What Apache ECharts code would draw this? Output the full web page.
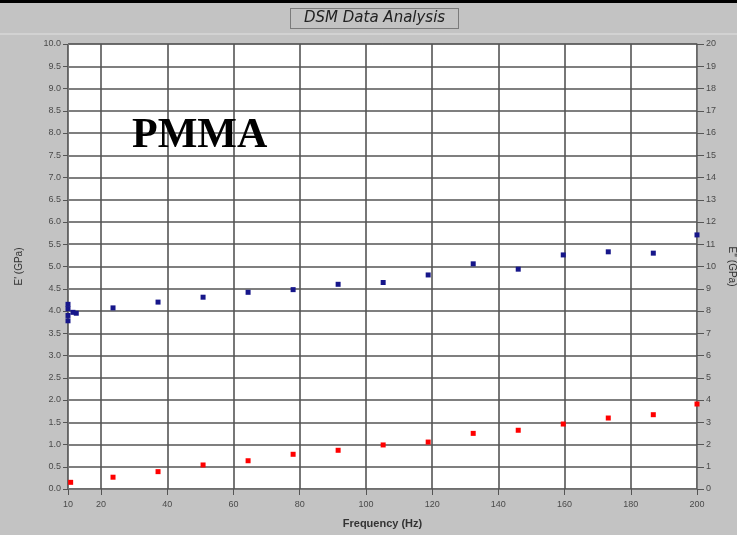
<!DOCTYPE html>
<html>
<head>
<meta charset="utf-8">
<script src="https://cdn.jsdelivr.net/npm/echarts@6/dist/echarts.min.js"></script>
<style>
html,body{margin:0;padding:0;background:#c3c3c3;}
#chart{width:737px;height:535px;}
</style>
</head>
<body>
<div id="chart"></div>
<script>
// ---- data ----
const xTicks = [10, 20, 40, 60, 80, 100, 120, 140, 160, 180, 200];
const storageFreq = [10, 10, 10, 10, 11.5, 12.5, 23.6, 37.2, 50.8, 64.4, 78, 91.6, 105.2, 118.8, 132.4, 146, 159.6, 173.2, 186.8, 200];
const storageModulus = [3.78, 3.9, 4.05, 4.15, 3.97, 3.95, 4.07, 4.2, 4.31, 4.42, 4.48, 4.6, 4.64, 4.81, 5.06, 4.94, 5.26, 5.33, 5.3, 5.71];
const lossFreq = [10.8, 23.6, 37.2, 50.8, 64.4, 78, 91.6, 105.2, 118.8, 132.4, 146, 159.6, 173.2, 186.8, 200];
const lossModulus = [0.3, 0.53, 0.78, 1.08, 1.27, 1.56, 1.74, 1.98, 2.11, 2.5, 2.64, 2.92, 3.19, 3.34, 3.82];

const chart = echarts.init(document.getElementById('chart'), null, {renderer: 'canvas'});
const labelStyle = {color: '#4a4a4a', fontSize: 9, fontFamily: 'Liberation Sans, Arial, sans-serif'};
const gridLine = {show: true, lineStyle: {color: '#555', width: 1.6}};

chart.setOption({
  backgroundColor: '#c3c3c3',
  animation: false,
  title: {
    text: 'DSM Data Analysis',
    left: 290, top: 8,
    padding: [3, 14, 3, 14],
    borderColor: '#333', borderWidth: 1, borderType: 'dotted',
    textStyle: {fontStyle: 'italic', fontWeight: 'normal', fontSize: 15, color: '#222', fontFamily: 'DejaVu Sans, Verdana, sans-serif'}
  },
  graphic: [
    {type: 'rect', left: 0, top: 0, shape: {width: 737, height: 3}, style: {fill: '#000'}},
    {type: 'rect', left: 0, top: 33, shape: {width: 737, height: 2}, style: {fill: '#d2d2d2'}},
    {type: 'text', left: 132, top: 115, z: 100,
     style: {text: 'PMMA', font: 'bold 42px "Liberation Serif", "Times New Roman", serif', fill: '#000'}}
  ],
  grid: {left: 68, right: 40, top: 44, bottom: 46, outerBoundsMode: 'none', containLabel: false,
         show: true, backgroundColor: '#fff', borderColor: '#777', borderWidth: 1},
  xAxis: {
    type: 'value', min: 10, max: 200,
    name: 'Frequency (Hz)', nameLocation: 'middle', nameGap: 29,
    nameTextStyle: {fontWeight: 'bold', fontSize: 11, color: '#333', fontFamily: 'Liberation Sans, Arial, sans-serif'},
    axisLine: {show: true, lineStyle: {color: '#777'}},
    axisTick: {show: true, length: 6, customValues: xTicks, lineStyle: {color: '#555'}},
    axisLabel: Object.assign({customValues: xTicks, margin: 11}, labelStyle),
    splitLine: gridLine
  },
  yAxis: [
    {
      type: 'value', position: 'left', min: 0, max: 10, interval: 0.5,
      name: "E' (GPa)", nameLocation: 'middle', nameGap: 44,
      nameTextStyle: {fontSize: 10, color: '#333', fontFamily: 'Liberation Sans, Arial, sans-serif'},
      axisLine: {show: true, lineStyle: {color: '#777'}},
      axisTick: {show: true, length: 5, lineStyle: {color: '#555'}},
      axisLabel: Object.assign({margin: 7, formatter: v => v.toFixed(1)}, labelStyle),
      splitLine: gridLine
    },
    {
      type: 'value', position: 'right', min: 0, max: 20, interval: 1,
      name: "E'' (GPa)", nameLocation: 'middle', nameGap: 26, nameRotate: -90,
      nameTextStyle: {fontSize: 10, color: '#333', fontFamily: 'Liberation Sans, Arial, sans-serif'},
      axisLine: {show: true, lineStyle: {color: '#777'}},
      axisTick: {show: true, length: 7, lineStyle: {color: '#555'}},
      axisLabel: Object.assign({margin: 9}, labelStyle),
      splitLine: {show: false}
    }
  ],
  series: [
    {
      name: "E'", type: 'scatter', yAxisIndex: 0, symbol: 'rect', symbolSize: 5,
      itemStyle: {color: '#16168a', opacity: 1},
      data: storageFreq.map((f, i) => [f, storageModulus[i]])
    },
    {
      name: "E''", type: 'scatter', yAxisIndex: 1, symbol: 'rect', symbolSize: 5,
      itemStyle: {color: '#ff0000', opacity: 1},
      data: lossFreq.map((f, i) => [f, lossModulus[i]])
    }
  ]
});
</script>
</body>
</html>
